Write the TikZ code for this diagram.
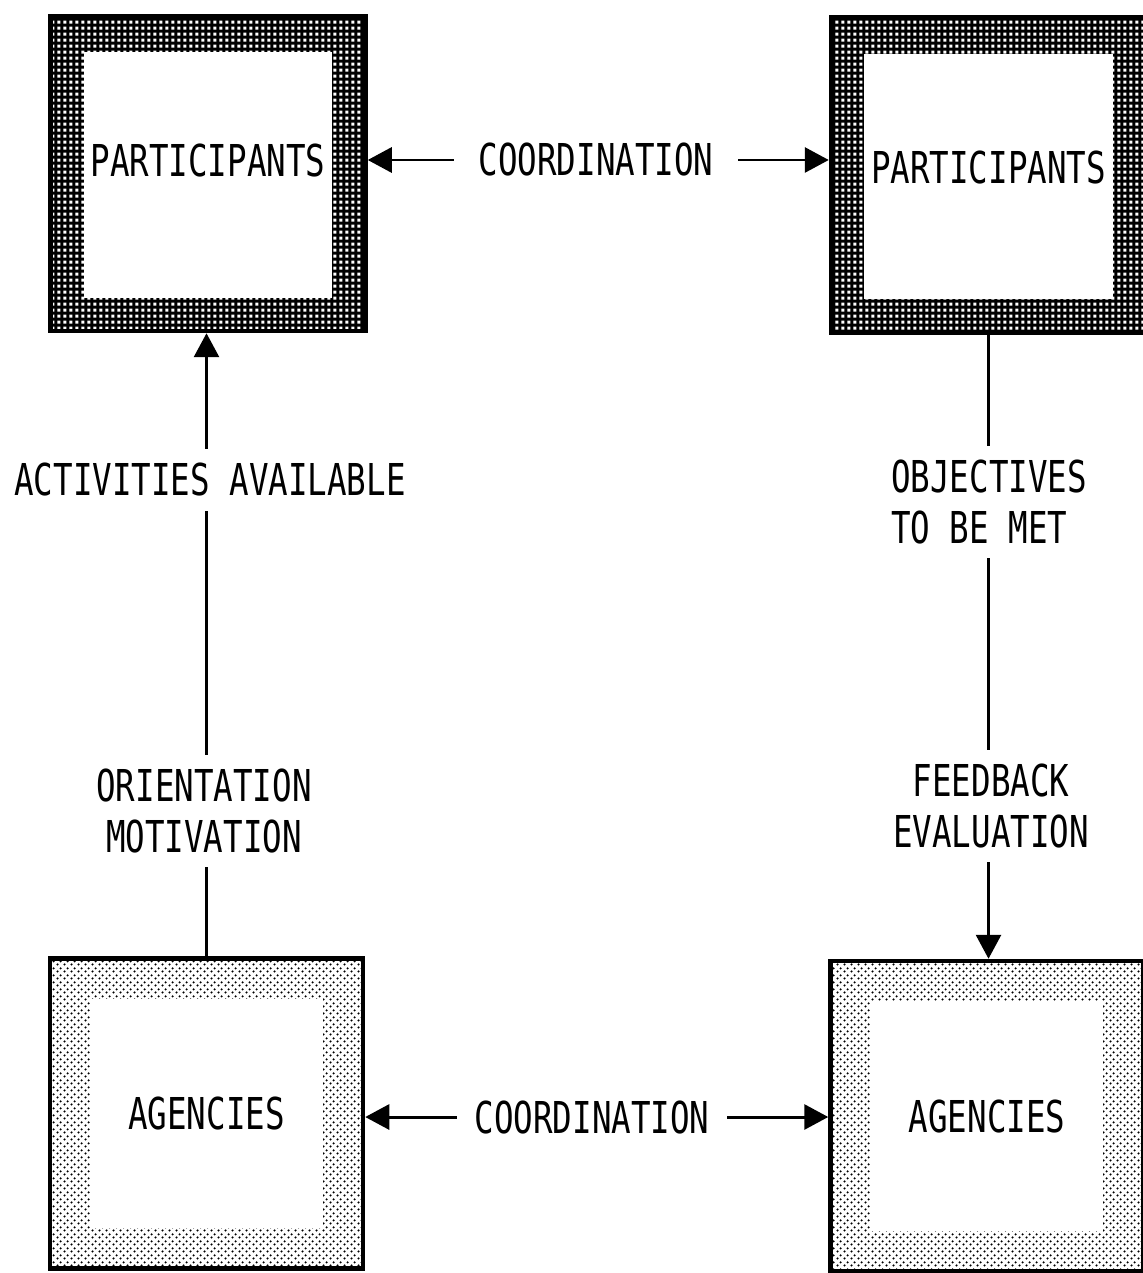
\documentclass[tikz,border=0pt]{standalone}
\usepackage{fontspec}
\newfontfamily\letrafont[FakeStretch=0.74]{DejaVu Sans Mono}
\usetikzlibrary{arrows.meta,patterns.meta}

% Tramas de los recuadros
\pgfdeclarepattern{name=rejilla, type=uncolored,
  bottom left={\pgfpoint{0pt}{0pt}}, top right={\pgfpoint{3.6pt}{3.6pt}},
  tile size={\pgfpoint{3.6pt}{3.6pt}},
  code={\pgfpathrectangle{\pgfpoint{0.9pt}{0.9pt}}{\pgfpoint{1.8pt}{1.8pt}}\pgfusepath{fill}}}
\pgfdeclarepattern{name=punteado, type=uncolored,
  bottom left={\pgfpoint{0pt}{0pt}}, top right={\pgfpoint{4pt}{4pt}},
  tile size={\pgfpoint{4pt}{4pt}},
  code={\pgfpathcircle{\pgfpoint{1pt}{1pt}}{0.75pt}\pgfpathcircle{\pgfpoint{3pt}{3pt}}{0.75pt}\pgfusepath{fill}}}

\tikzset{
  participantes/.style={draw, line width=2.6pt, preaction={fill=black},
    pattern=rejilla, pattern color=white, inner sep=0pt,
    minimum width=6.3cm, minimum height=6.3cm,
    path picture={\fill[white] ([shift={(0.66cm,-0.72cm)}]path picture bounding box.north west)
      rectangle ([shift={(-0.66cm,0.66cm)}]path picture bounding box.south east);}},
  agencias/.style={draw, line width=2.6pt, preaction={fill=white},
    pattern=punteado, pattern color=black, inner sep=0pt,
    minimum width=6.26cm, minimum height=6.2cm,
    path picture={\fill[white] ([shift={(0.8cm,-0.8cm)}]path picture bounding box.north west)
      rectangle ([shift={(-0.8cm,0.8cm)}]path picture bounding box.south east);}},
  etiqueta/.style={fill=white, inner xsep=6pt, inner ysep=8pt},
  flecha/.style={line width=1.7pt, -{Triangle[length=0.48cm, width=0.5cm]}},
  linea/.style={line width=1.7pt}
}

\begin{document}
\begin{tikzpicture}[x=0.02cm, y=-0.02cm,
    every node/.style={font=\letrafont\fontsize{25}{28.5}\selectfont}]
    \useasboundingbox (0,0) rectangle (1142,1273);

    % Recuadros
    \node[participantes, text depth=0.52cm] (partizq) at (208,173.5) {PARTICIPANTS};
    \node[participantes, text depth=0.3cm] (partder) at (988.5,175) {PARTICIPANTS};
    \node[agencias] (agenizq) at (206.5,1113.5) {AGENCIES};
    \node[agencias] (agender) at (987,1116) {AGENCIES};

    % Etiquetas de las conexiones
    \node[etiqueta, inner xsep=14pt] (coordarr) at (596,160) {COORDINATION};
    \node[etiqueta, inner xsep=10pt] (coordab) at (592,1117) {COORDINATION};
    \node[etiqueta] (actividades) at (210,480) {ACTIVITIES AVAILABLE};
    \node[etiqueta, align=center] (orientacion) at (204,811) {ORIENTATION\\MOTIVATION};
    \node[etiqueta, align=left] (objetivos) at (989,502) {OBJECTIVES\\TO BE MET};
    \node[etiqueta, align=center] (retro) at (991,806) {FEEDBACK\\EVALUATION};

    % Coordinacion (arriba y abajo)
    \draw[flecha] (coordarr.west) -- (coordarr.west -| partizq.east);
    \draw[flecha] (coordarr.east) -- (coordarr.east -| partder.west);
    \draw[flecha] (coordab.west) -- (coordab.west -| agenizq.east);
    \draw[flecha] (coordab.east) -- (coordab.east -| agender.west);

    % Columna izquierda: de agencias a participantes
    \draw[linea] (agenizq.north) -- (agenizq.north |- orientacion.south);
    \draw[linea] (agenizq.north |- orientacion.north) -- (agenizq.north |- actividades.south);
    \draw[flecha] (agenizq.north |- actividades.north) -- (agenizq.north |- partizq.south);

    % Columna derecha: de participantes a agencias
    \draw[linea] (partder.south) -- (partder.south |- objetivos.north);
    \draw[linea] (partder.south |- objetivos.south) -- (partder.south |- retro.north);
    \draw[flecha] (partder.south |- retro.south) -- (partder.south |- agender.north);
\end{tikzpicture}
\end{document}
